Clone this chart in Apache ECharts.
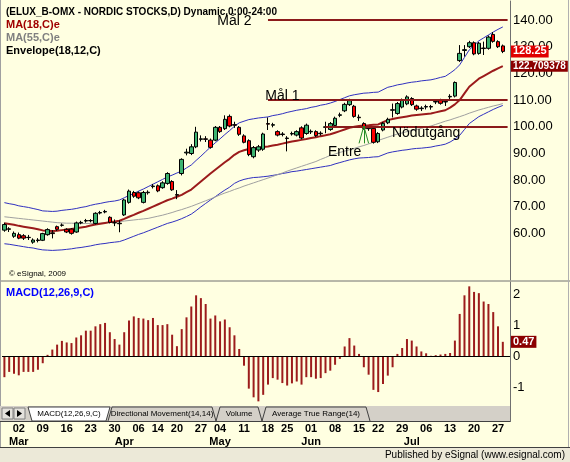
<!DOCTYPE html>
<html>
<head>
<meta charset="utf-8">
<script src="https://cdn.jsdelivr.net/npm/echarts@6.0.0/dist/echarts.min.js"></script>
<style>
  html, body { margin: 0; padding: 0; background: #ffffe1; }
  #chart { width: 570px; height: 462px; }
</style>
</head>
<body>
<div id="chart"></div>
<script>
// trading days, Feb 25 - Jul 28 2009
const dates = [
  '02-25','02-26','02-27',
  '03-02','03-03','03-04','03-05','03-06','03-09','03-10','03-11','03-12','03-13',
  '03-16','03-17','03-18','03-19','03-20','03-23','03-24','03-25','03-26','03-27','03-30','03-31',
  '04-01','04-02','04-03','04-06','04-07','04-08','04-09','04-14','04-15','04-16','04-17',
  '04-20','04-21','04-22','04-23','04-24','04-27','04-28','04-29','04-30',
  '05-04','05-05','05-06','05-07','05-08','05-11','05-12','05-13','05-14','05-15',
  '05-18','05-19','05-20','05-22','05-25','05-26','05-27','05-28','05-29',
  '06-01','06-02','06-03','06-04','06-05','06-08','06-09','06-10','06-11','06-12',
  '06-15','06-16','06-17','06-18','06-22','06-23','06-24','06-25','06-26','06-29','06-30',
  '07-01','07-02','07-03','07-06','07-07','07-08','07-09','07-10','07-13','07-14','07-15','07-16','07-17',
  '07-20','07-21','07-22','07-23','07-24','07-27','07-28'
];

// [open, close, low, high]
const candles = [
  [61.3,63.4,60.7,64.1],[61.8,61.6,60.6,62.4],[59.0,60.1,58.4,60.8],[59.6,58.3,57.9,60.4],[59.2,58.3,57.6,59.8],
  [58.6,58.5,57.6,59.5],[56.8,57.6,56.2,58.2],[57.6,57.4,56.7,58.3],[57.5,60.0,57.2,60.3],[59.6,61.5,59.2,62.0],
  [60.3,60.0,58.2,61.3],[62.6,61.6,61.0,63.0],[63.1,63.2,62.6,63.8],[61.6,60.6,60.2,62.0],[61.7,60.1,59.6,62.0],
  [60.6,64.0,60.3,64.5],[64.0,64.2,63.5,64.8],[64.7,64.9,64.1,65.5],[64.9,64.8,64.2,65.4],[63.8,67.6,63.4,68.0],
  [67.7,67.9,67.2,68.5],[68.1,68.3,67.6,68.9],[66.1,64.2,63.8,66.5],[64.1,64.0,62.8,65.3],[63.9,63.7,60.5,65.0],
  [67.0,72.6,66.6,73.0],[71.7,75.9,71.2,76.5],[75.4,74.0,73.4,76.0],[75.3,73.4,72.9,75.8],[71.7,75.4,71.3,76.0],
  [75.3,75.5,74.6,76.2],[77.6,77.8,76.9,78.6],[77.9,76.0,75.5,78.4],[77.2,79.0,76.8,79.6],[78.8,82.5,78.3,83.0],
  [79.5,76.4,76.0,80.0],[74.6,74.4,72.9,76.3],[82.5,87.8,81.8,88.2],[90.2,90.5,89.3,91.8],[90.0,92.5,89.4,93.5],
  [92.5,98.0,92.0,100.0],[95.3,95.5,94.5,96.8],[95.5,95.3,94.3,96.5],[95.0,92.3,91.8,95.6],[95.0,99.8,94.6,100.3],
  [99.8,98.2,97.7,100.3],[99.3,102.8,98.8,104.3],[103.9,100.3,99.8,104.6],[100.8,100.6,99.6,101.9],[99.8,97.2,96.6,100.3],
  [96.6,94.2,93.8,97.2],[94.8,89.6,89.0,95.3],[88.8,92.2,88.2,92.8],[91.3,92.5,90.6,93.2],[91.6,97.3,91.0,97.8],
  [101.2,101.0,98.8,103.5],[100.6,100.8,99.8,101.5],[98.2,96.9,96.4,98.7],[97.3,97.1,96.4,98.0],[95.8,95.6,90.8,96.5],
  [97.3,97.5,96.7,98.2],[96.9,98.2,96.4,98.7],[99.6,95.8,95.3,100.2],[97.5,100.6,97.0,101.2],[98.1,98.3,97.3,99.0],
  [98.2,96.7,96.2,98.7],[97.6,97.4,96.7,98.3],[99.8,100.0,97.6,101.9],[99.0,101.2,98.5,101.8],[100.5,103.2,100.0,103.8],
  [104.3,104.5,103.6,105.3],[106.0,108.4,105.5,109.0],[108.3,109.8,107.8,110.5],[107.7,103.9,103.4,108.2],[103.6,103.4,102.2,104.6],
  [101.2,99.4,98.9,101.7],[99.5,99.3,98.5,100.3],[99.4,94.2,93.7,99.9],[94.4,97.5,93.9,98.0],[98.8,101.3,98.3,101.8],
  [101.5,102.8,101.0,103.4],[106.2,106.4,103.5,108.7],[105.0,108.7,104.5,109.3],[107.4,110.0,106.9,110.6],[108.6,111.2,108.1,111.8],
  [110.6,108.3,107.8,111.1],[107.8,106.6,106.0,108.3],[106.8,107.0,105.9,107.7],[107.4,107.6,106.5,108.3],[107.6,107.4,106.4,108.2],
  [109.3,109.5,108.5,110.3],[110.0,108.8,108.3,110.5],[109.3,109.5,107.8,110.3],[111.2,111.4,109.8,112.2],[111.5,116.6,111.0,117.0],
  [124.8,127.5,124.3,130.6],[128.6,128.9,126.3,130.6],[130.0,131.5,129.5,132.2],[131.5,127.3,126.8,132.0],[127.5,131.3,127.0,131.8],
  [129.5,129.3,126.9,131.9],[129.4,133.6,128.9,134.2],[134.6,132.0,131.5,135.5],[131.9,130.0,129.5,132.4],[130.3,128.25,127.6,130.8]
];

const ma18 = [
  63.9,63.6,63.3,62.9,62.6,62.3,62.0,61.6,61.2,61.1,61.0,61.1,61.3,61.5,61.7,62.0,62.3,62.6,63.0,63.4,
  63.7,64.0,64.3,64.5,64.8,65.5,66.3,67.0,67.8,68.5,69.3,70.1,70.9,71.7,72.5,73.1,73.8,74.5,75.5,76.5,
  78.0,79.5,81.0,82.5,83.9,85.3,86.7,88.0,89.5,90.6,91.2,91.7,92.0,92.2,92.4,92.6,93.0,93.3,93.7,94.1,
  94.5,94.8,95.1,95.4,95.8,96.1,96.5,96.8,97.2,97.8,98.4,99.0,99.6,100.0,100.3,100.5,100.6,100.8,100.9,101.7,
  102.5,102.9,103.3,103.6,103.9,104.2,104.4,104.6,104.8,105.0,105.4,105.8,106.2,107.2,108.4,110.0,112.5,115.0,116.5,118.0,
  119.0,120.0,121.0,121.9,122.709378
];

const ma55 = [
  66.3,66.1,65.9,65.7,65.5,65.3,65.1,64.9,64.7,64.5,64.3,64.1,64.0,63.9,63.9,63.8,63.8,63.8,63.8,63.9,
  63.9,64.0,64.2,64.3,64.5,64.7,64.9,65.1,65.3,65.5,65.7,66.1,66.5,66.9,67.4,67.9,68.5,69.0,69.6,70.2,
  70.9,71.6,72.3,73.0,73.7,74.5,75.2,75.8,76.5,77.1,77.8,78.4,79.0,79.6,80.2,80.8,81.4,82.1,82.7,83.4,
  84.0,84.6,85.2,85.8,86.4,87.0,87.8,88.5,89.3,89.8,90.4,90.9,91.4,91.9,92.5,93.0,93.6,94.2,94.9,95.5,
  96.1,96.7,97.3,97.7,98.2,98.6,99.0,99.4,99.9,100.3,100.9,101.5,102.1,102.6,103.2,103.8,104.4,105.1,105.7,106.3,
  106.8,107.3,107.8,108.2,108.7
];

const envUpper = [
  71.6,71.2,70.9,70.4,70.1,69.8,69.4,69.0,68.5,68.4,68.3,68.4,68.7,68.9,69.1,69.4,69.8,70.1,70.6,71.0,
  71.3,71.7,72.0,72.2,72.6,73.4,74.3,75.0,75.9,76.7,77.6,78.5,79.4,80.3,81.2,81.9,82.7,83.4,84.6,85.7,
  87.4,89.0,90.7,92.4,94.0,95.5,97.1,98.6,100.2,101.5,102.1,102.7,103.0,103.3,103.5,103.7,104.2,104.5,104.9,105.4,
  105.8,106.2,106.5,106.8,107.3,107.6,108.1,108.4,108.9,109.5,110.2,110.9,111.6,112.0,112.3,112.6,112.7,112.9,113.0,113.9,
  114.8,115.2,115.7,116.0,116.4,116.7,116.9,117.2,117.4,117.6,118.0,118.5,118.9,120.1,121.4,123.2,126.0,128.8,130.5,132.2,
  133.3,134.4,135.5,136.5,137.4
];

const envLower = [
  56.2,56.0,55.7,55.4,55.1,54.8,54.6,54.2,53.9,53.8,53.7,53.8,53.9,54.1,54.3,54.6,54.8,55.1,55.4,55.8,
  56.1,56.3,56.6,56.8,57.0,57.6,58.3,59.0,59.7,60.3,61.0,61.7,62.4,63.1,63.8,64.3,64.9,65.6,66.4,67.3,
  68.6,70.0,71.3,72.6,73.8,75.1,76.3,77.4,78.8,79.7,80.3,80.7,81.0,81.1,81.3,81.5,81.8,82.1,82.5,82.8,
  83.2,83.4,83.7,84.0,84.3,84.6,84.9,85.2,85.5,86.1,86.6,87.1,87.6,88.0,88.3,88.4,88.5,88.7,88.8,89.5,
  90.2,90.6,90.9,91.2,91.4,91.7,91.9,92.0,92.2,92.4,92.8,93.1,93.5,94.3,95.4,96.8,99.0,101.2,102.5,103.8,
  104.7,105.6,106.5,107.3,108.0
];

const macdHist = [
  -0.67,-0.50,-0.56,-0.61,-0.50,-0.50,-0.50,-0.43,-0.22,0.05,
  0.22,0.38,0.50,0.45,0.43,0.61,0.68,0.83,0.83,0.97,
  1.04,1.08,0.78,0.56,0.38,0.78,1.16,1.29,1.24,1.22,
  1.17,1.24,1.01,1.01,1.04,0.70,0.33,0.88,1.26,1.61,
  1.97,1.88,1.69,1.22,1.32,1.13,1.19,0.94,0.68,0.24,
  -0.30,-1.04,-1.32,-1.45,-1.24,-0.91,-0.70,-0.75,-0.86,-0.94,
  -0.87,-0.81,-0.91,-0.67,-0.67,-0.72,-0.70,-0.54,-0.46,-0.27,
  -0.08,0.32,0.59,0.35,0.08,-0.35,-0.59,-1.08,-1.15,-0.89,
  -0.62,-0.35,0.08,0.27,0.56,0.51,0.32,0.16,0.10,0.02,
  0.04,0.06,0.08,0.11,0.51,1.37,1.97,2.26,2.08,2.04,
  1.77,1.69,1.43,0.97,0.47
];

const priceTicks = [60, 70, 80, 90, 100, 110, 120, 130, 140];
const macdTicks = [-1, 0, 1, 2];
const weekTicks = ['03-02','03-09','03-16','03-23','03-30','04-06','04-14','04-20','04-27','05-04','05-11',
  '05-18','05-25','06-01','06-08','06-15','06-22','06-29','07-06','07-13','07-20','07-27'];
const monthTicks = { '03-02': 'Mar', '04-01': 'Apr', '05-04': 'May', '06-01': 'Jun', '07-01': 'Jul' };

// drawn levels: [label, price, start index]
const levels = [['Mål 2', 140, 55], ['Mål 1', 110, 55], ['Nödutgång', 100, 67]];
// text notes: [label, index, price]
const notes = [['Mål 2', 48, 139.6], ['Mål 1', 58, 111.3], ['Nödutgång', 88, 97.6], ['Entre', 71, 90.6]];
// entry fan: apex [index, price], feet indices, foot price
const entryApex = [75, 100.3];
const entryFeet = [74, 75, 76];
const entryFootPrice = 93.8;

const last = dates.length - 1;
const cats = dates.concat(['']);
const font = 'Liberation Sans';
const clear = 'rgba(0,0,0,0)';

const chart = echarts.init(document.getElementById('chart'));

const boxLabel = (bg, text, size) => ({
  show: true,
  position: 'end',
  distance: 1,
  formatter: () => text,
  color: '#fff',
  backgroundColor: bg,
  fontFamily: font,
  fontSize: size,
  fontWeight: 'bold',
  padding: [1, 2, 0, 2]
})

const levelLines = levels.map(l => [
  { coord: [l[2], l[1]] },
  { coord: [cats.length - 1, l[1]] }
])
const fanLines = entryFeet.map(f => [
  { coord: entryApex, lineStyle: { color: '#228b22', width: 1 } },
  { coord: [f, entryFootPrice] }
])

const option = {
  animation: false,
  backgroundColor: '#ffffe1',
  textStyle: { fontFamily: font },
  title: [
    { text: '(ELUX_B-OMX - NORDIC STOCKS,D) Dynamic,0:00-24:00', left: 1, top: 2,
      textStyle: { fontSize: 10, fontWeight: 'bold', color: '#000' } },
    { text: 'MA(18,C)e', left: 1, top: 14, textStyle: { fontSize: 11, fontWeight: 'bold', color: '#a00000' } },
    { text: 'MA(55,C)e', left: 1, top: 27, textStyle: { fontSize: 11, fontWeight: 'bold', color: '#808080' } },
    { text: 'Envelope(18,12,C)', left: 1, top: 40, textStyle: { fontSize: 11, fontWeight: 'bold', color: '#000' } },
    { text: '© eSignal, 2009', left: 4, top: 265, textStyle: { fontSize: 8, fontWeight: 'normal', color: '#000' } },
    { text: 'MACD(12,26,9,C)', left: 1, top: 282, textStyle: { fontSize: 11, fontWeight: 'bold', color: '#0000ff' } }
  ],
  grid: [
    { left: 2, right: 60, top: 1, height: 279 },
    { left: 2, right: 60, top: 282, height: 124 }
  ],
  xAxis: [
    { type: 'category', gridIndex: 0, data: cats, axisLine: { show: false }, axisTick: { show: false },
      axisLabel: { show: false }, splitLine: { show: false } },
    { type: 'category', gridIndex: 1, data: cats, axisLine: { show: false }, axisTick: { show: false },
      splitLine: { show: false },
      axisLabel: {
        interval: 0, margin: 16, color: '#000', fontSize: 11, fontWeight: 'bold', lineHeight: 13,
        formatter: v => {
          const day = weekTicks.includes(v) ? v.slice(3) : ''
          const month = monthTicks[v] || ''
          if (!day && !month) return ''
          return (day || ' ') + '\n' + month
        }
      } }
  ],
  yAxis: [
    { type: 'value', gridIndex: 0, position: 'right', min: 42.62, max: 147.12,
      splitLine: { show: false }, axisTick: { show: false },
      axisLine: { show: true, lineStyle: { color: '#707070' } },
      axisLabel: { customValues: priceTicks, formatter: v => v.toFixed(2), margin: 3, color: '#000', fontSize: 13 } },
    { type: 'value', gridIndex: 1, position: 'right', min: -1.6, max: 2.4,
      splitLine: { show: false }, axisTick: { show: false },
      axisLine: { show: true, lineStyle: { color: '#707070' } },
      axisLabel: { customValues: macdTicks, formatter: v => String(v), margin: 3, color: '#000', fontSize: 13 } }
  ],
  series: [
    { name: 'Envelope upper', type: 'line', data: envUpper, xAxisIndex: 0, yAxisIndex: 0, showSymbol: false,
      lineStyle: { color: '#3030c0', width: 1 }, z: 2, clip: false },
    { name: 'Envelope lower', type: 'line', data: envLower, xAxisIndex: 0, yAxisIndex: 0, showSymbol: false,
      lineStyle: { color: '#3030c0', width: 1 }, z: 2, clip: false },
    { name: 'MA55', type: 'line', data: ma55, xAxisIndex: 0, yAxisIndex: 0, showSymbol: false,
      lineStyle: { color: '#a0a0a0', width: 1 }, z: 2, clip: false },
    { name: 'MA18', type: 'line', data: ma18, xAxisIndex: 0, yAxisIndex: 0, showSymbol: false,
      lineStyle: { color: '#9b1b1b', width: 2 }, z: 3, clip: false,
      markLine: {
        silent: true, symbol: 'none', lineStyle: { color: clear, width: 0 },
        label: boxLabel('#8b0000', String(ma18[last]), 10),
        data: [{ yAxis: ma18[last] }]
      } },
    { name: 'ELUX B', type: 'candlestick', data: candles, xAxisIndex: 0, yAxisIndex: 0, barWidth: 4, z: 4, clip: false,
      itemStyle: { color: '#3cb371', color0: '#ff0000', borderColor: '#000', borderColor0: '#000', borderWidth: 1 },
      markLine: {
        silent: true, symbol: 'none', label: { show: false },
        lineStyle: { color: '#8b1a1a', width: 2, type: 'solid' },
        data: levelLines.concat(fanLines).concat([
          { yAxis: candles[last][1], lineStyle: { color: clear, width: 0 }, label: boxLabel('#e00000', String(candles[last][1]), 11) }
        ])
      },
      markPoint: {
        silent: true, symbol: 'circle', symbolSize: 1, itemStyle: { color: clear },
        label: { show: true, position: 'inside', formatter: p => p.name, color: '#000', fontSize: 14, fontFamily: font },
        data: notes.map(n => ({ name: n[0], coord: [n[1], n[2]] }))
      } },
    { name: 'MACD', type: 'bar', data: macdHist, xAxisIndex: 1, yAxisIndex: 1, barWidth: 2,
      itemStyle: { color: '#9c1c1c' }, clip: false,
      markLine: {
        silent: true, symbol: 'none',
        data: [
          { yAxis: 0, lineStyle: { color: '#000', width: 1, type: 'solid' }, label: { show: false } },
          { yAxis: macdHist[last], lineStyle: { color: clear, width: 0 }, label: boxLabel('#8b0000', String(macdHist[last]), 11) }
        ]
      } }
  ],
  graphic: [
    { type: 'line', shape: { x1: 0, y1: 281, x2: 570, y2: 281 }, style: { stroke: '#707070', lineWidth: 1 }, z: 10 },
    { type: 'line', shape: { x1: 0.5, y1: 0, x2: 0.5, y2: 447 }, style: { stroke: '#a0a0a0', lineWidth: 1 }, z: 10 },
    { type: 'line', shape: { x1: 568.5, y1: 0, x2: 568.5, y2: 447 }, style: { stroke: '#b0b0b0', lineWidth: 1 }, z: 10 },
    // tab bar
    { type: 'rect', shape: { x: 0, y: 406, width: 510, height: 15 }, style: { fill: '#d4d0c8' }, z: 10 },
    { type: 'line', shape: { x1: 0, y1: 421.5, x2: 510, y2: 421.5 }, style: { stroke: '#404040', lineWidth: 1 }, z: 11 },
    { type: 'line', shape: { x1: 510.5, y1: 406, x2: 510.5, y2: 422 }, style: { stroke: '#707070', lineWidth: 1 }, z: 11 },
    { type: 'rect', shape: { x: 2, y: 408, width: 11, height: 11 }, style: { fill: '#e4e2dc', stroke: '#808080' }, z: 11 },
    { type: 'rect', shape: { x: 14, y: 408, width: 11, height: 11 }, style: { fill: '#e4e2dc', stroke: '#808080' }, z: 11 },
    { type: 'polygon', shape: { points: [[10, 410], [10, 417], [5, 413.5]] }, style: { fill: '#000' }, z: 12 },
    { type: 'polygon', shape: { points: [[17, 410], [17, 417], [22, 413.5]] }, style: { fill: '#000' }, z: 12 },
    { type: 'polygon', shape: { points: [[28, 407], [32, 421], [106, 421], [110, 407]] },
      style: { fill: '#ffffff', stroke: '#404040', lineWidth: 1 }, z: 11 },
    { type: 'polyline', shape: { points: [[108, 421], [112, 407], [212, 407], [216, 421]] },
      style: { stroke: '#404040', fill: null, lineWidth: 1 }, z: 11 },
    { type: 'polyline', shape: { points: [[216, 421], [220, 407], [258, 407], [262, 421]] },
      style: { stroke: '#404040', fill: null, lineWidth: 1 }, z: 11 },
    { type: 'polyline', shape: { points: [[262, 421], [266, 407], [366, 407], [370, 421]] },
      style: { stroke: '#404040', fill: null, lineWidth: 1 }, z: 11 },
    { type: 'text', x: 69, y: 414, style: { text: 'MACD(12,26,9,C)', font: '8px "Liberation Sans"', fill: '#000', align: 'center', verticalAlign: 'middle' }, z: 12 },
    { type: 'text', x: 162, y: 414, style: { text: 'Directional Movement(14,14)', font: '8px "Liberation Sans"', fill: '#000', align: 'center', verticalAlign: 'middle' }, z: 12 },
    { type: 'text', x: 239, y: 414, style: { text: 'Volume', font: '8px "Liberation Sans"', fill: '#000', align: 'center', verticalAlign: 'middle' }, z: 12 },
    { type: 'text', x: 316, y: 414, style: { text: 'Average True Range(14)', font: '8px "Liberation Sans"', fill: '#000', align: 'center', verticalAlign: 'middle' }, z: 12 },
    // status bar
    { type: 'rect', shape: { x: 0, y: 447, width: 570, height: 15 }, style: { fill: '#ece9d8' }, z: 10 },
    { type: 'line', shape: { x1: 0, y1: 447.5, x2: 570, y2: 447.5 }, style: { stroke: '#404040', lineWidth: 1 }, z: 11 },
    { type: 'text', x: 565, y: 455, style: { text: 'Published by eSignal (www.esignal.com)', font: '10px "Liberation Sans"', fill: '#000', align: 'right', verticalAlign: 'middle' }, z: 12 }
  ]
}

chart.setOption(option)
</script>
</body>
</html>
